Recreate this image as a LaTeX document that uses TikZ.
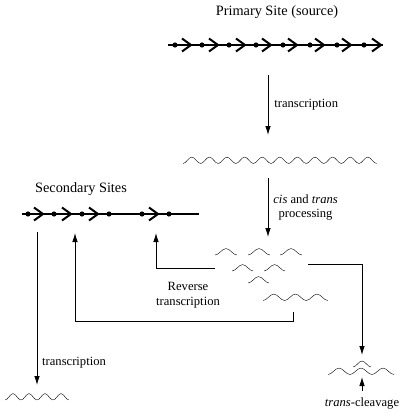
\documentclass[tikz,border=0pt]{standalone}
\usepackage{fontspec}
\setmainfont{Liberation Serif}
\usetikzlibrary{shapes,arrows,arrows.meta}

% wavy RNA strand: x, y (trough), humps, quarter period
\newcommand{\rnawave}[4]{\draw (#1,#2) \foreach \k in {1,...,#3}{ cos ++(#4,-3.2) sin ++(#4,-3.2) cos ++(#4,3.2) sin ++(#4,3.2) };}
% chevron on the DNA
\newcommand{\chev}[2]{\draw[line width=2pt, line join=miter] ({#1-5},{#2-6.5}) -- ({#1+4},#2) -- ({#1-5},{#2+6.5});}

\begin{document}
\begin{tikzpicture}[x=1pt, y=-1pt,
    txt/.style = {font=\fontsize{12.6}{14.5}\selectfont, inner sep=1pt},
    head/.style = {font=\fontsize{14.3}{16}\selectfont, inner sep=1pt},
    dna/.style = {line width=2pt},
    con/.style = {-{Latex[length=9pt,width=5.5pt]}, line width=0.8pt}]
		\useasboundingbox (0,0) rectangle (410,420);
		% primary site
		\node (prim) [head] at (277,12) {Primary Site (source)};
		\coordinate (p1) at (168,45);
		\coordinate (p2) at (383,45);
		\draw[dna] (p1) -- (p2);
		\foreach \x in {175,202,229,256,283,310,337,364} \fill (\x,45) circle (2.6);
		\foreach \x in {187,214,241,267,293,320,347,377} \chev{\x}{45};
		\coordinate (a1) at (268,75);
		\coordinate (a2) at (268,135);
		\draw[con] (a1) -- (a2) node[midway, right, txt, xshift=5pt] (tr1) {transcription};
		\rnawave{183}{163.5}{11}{4.4}
		\coordinate (b1) at (268,178);
		\coordinate (b2) at (268,237);
		\draw[con] (b1) -- (b2) node[midway, right, txt, align=center, xshift=4pt] (proc) {\textit{cis} and \textit{trans}\\processing};
		% fragments
		\rnawave{215}{255}{1}{5.5}
		\rnawave{248}{255}{1}{5.5}
		\rnawave{280}{255}{1}{5.5}
		\rnawave{232}{271}{1}{5.3}
		\rnawave{264}{271}{1}{5.3}
		\rnawave{248}{283}{1}{5.3}
		\rnawave{263}{300.5}{3}{5.4}
		% secondary sites
		\node (sec) [head] at (81,189) {Secondary Sites};
		\coordinate (s1) at (22,214);
		\coordinate (s2) at (199,214);
		\draw[dna] (s1) -- (s2);
		\foreach \x in {28,54,82,109,142,169} \fill (\x,214) circle (2.6);
		\foreach \x in {39,67,94,154} \chev{\x}{214};
		% reverse transcription
		\coordinate (r1) at (215,268);
		\coordinate (r2) at (156,233);
		\draw[con] (r1) -| (r2);
		\coordinate (q1) at (293,312);
		\coordinate (q2) at (75,321);
		\coordinate (q3) at (75,233);
		\draw[con] (q1) |- (q2) -- (q3);
		\node (rev) [txt, align=center] at (188,295) {Reverse\\transcription};
		% transcription of secondary site
		\coordinate (d1) at (37,232);
		\coordinate (d2) at (37,385);
		\draw[con] (d1) -- (d2);
		\node (tr2) [txt, anchor=west] at (41,363) {transcription};
		\rnawave{5}{400}{4}{4}
		% trans-cleavage
		\coordinate (c1) at (308,264);
		\coordinate (c2) at (362,355);
		\draw[con] (c1) -| (c2);
		\rnawave{328}{374.5}{3}{5.5}
		\draw (353,367) cos ++(4.5,-3) sin ++(4.5,-3) cos ++(4.5,3) sin ++(4.5,3);
		\coordinate (e1) at (362,391);
		\coordinate (e2) at (362,377);
		\draw[con] (e1) -- (e2);
		\node (cleave) [txt] at (362,403) {\textit{trans}-cleavage};
	\end{tikzpicture}
\end{document}
